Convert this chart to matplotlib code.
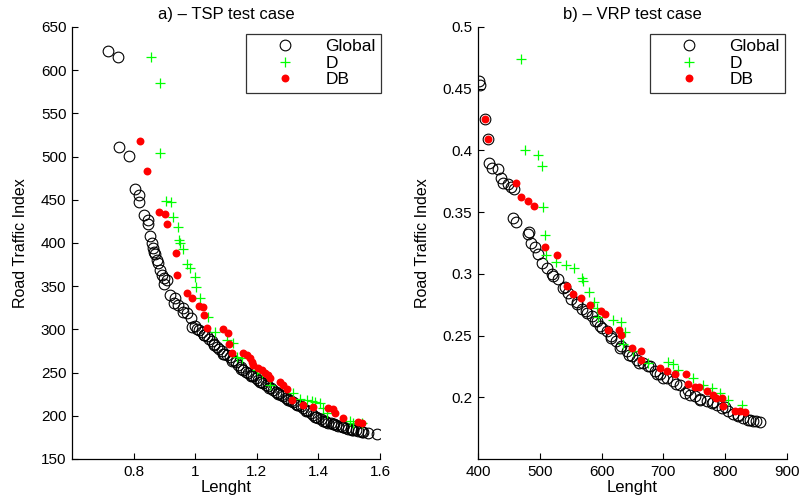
import matplotlib
matplotlib.use("Agg")
import matplotlib.pyplot as plt

plt.rcParams['font.family'] = ['Liberation Sans', 'DejaVu Sans']

# ---------------- TSP test case ----------------
tsp_global_x = [0.718, 0.748, 0.754, 0.785, 0.806, 0.817, 0.817, 0.833, 0.846, 0.848, 0.853,
                0.859, 0.864, 0.869, 0.878, 0.886, 0.893, 0.900, 0.909, 0.918, 0.934, 0.945,
                0.961, 0.972, 0.985, 0.989, 1.005, 1.013, 1.021, 1.029, 1.037, 1.045, 1.054,
                1.062, 1.070, 1.078, 1.086, 1.094, 1.102, 1.113, 1.124, 1.132, 1.140, 1.148,
                1.156, 1.164, 1.172, 1.180, 1.189, 1.197, 1.205, 1.213, 1.221, 1.229, 1.237,
                1.245, 1.254, 1.262, 1.270, 1.278, 1.286, 1.294, 1.302, 1.310, 1.319, 1.327,
                1.335, 1.343, 1.351, 1.359, 1.367, 1.375, 1.384, 1.392, 1.400, 1.408, 1.416,
                1.424, 1.432, 1.440, 1.448, 1.456, 1.465, 1.473, 1.481, 1.489, 1.497, 1.505,
                1.513, 1.521, 1.530, 1.538, 1.546, 1.589,
                0.865, 0.875, 0.900, 0.930, 0.960, 1.000, 1.030, 1.060, 1.090, 1.120, 1.150,
                1.180, 1.210, 1.240, 1.270, 1.300, 1.330, 1.360, 1.390, 1.420, 1.450, 1.480,
                1.510, 1.540, 1.560]
tsp_global_y = [622, 615, 511, 501, 463, 455, 447, 432, 427, 422, 408,
                400.5, 394, 387, 377, 369, 363, 359, 357, 340, 336, 328,
                324.5, 319, 313, 303, 301, 299, 297.5, 294, 292, 289, 286,
                283, 280, 277, 274.5, 272, 270.5, 268, 265, 262, 259, 256,
                253, 251, 249.5, 247.5, 245.5, 243.5, 241.5, 239.5, 237.8, 236, 234,
                232, 230, 228, 226, 224, 222.5, 220.5, 218.5, 217, 215.5, 214,
                213, 211, 209, 207, 205, 203, 201, 199, 197.5, 196, 194.5,
                193.3, 192.2, 191.5, 190.7, 189.5, 188.4, 187.7, 187, 186, 185, 184.5,
                183.8, 183.2, 182.6, 182, 181.5, 178.8,
                390, 380, 352, 331, 320, 304, 293, 282, 271, 263, 254,
                246, 239, 232, 225, 219, 212, 206, 199, 194, 190, 187,
                184, 181, 180]

tsp_d_x = [0.857, 0.886, 0.886, 0.905, 0.921, 0.927, 0.944, 0.948, 0.951, 0.961, 0.972,
           0.983, 0.999, 1.003, 1.016, 1.042, 1.064, 1.102, 1.124, 1.135, 1.151, 1.200,
           1.216, 1.243, 1.319, 1.340, 1.362, 1.378, 1.389, 1.405, 1.416, 1.427, 1.503,
           1.513, 1.541]
tsp_d_y = [615.6, 585, 504, 449, 447, 430, 419, 403.5, 399.7, 393, 375.5,
           371, 361, 349, 336, 314, 297.5, 288, 284, 268.5, 266.5, 253,
           249, 235.7, 226, 220, 218.5, 217, 215.7, 214.5, 209, 203, 194.5,
           192, 191.5]

tsp_db_x = [0.821, 0.845, 0.882, 0.903, 0.907, 0.938, 0.942, 0.972, 0.989, 1.013, 1.024,
            1.029, 1.037, 1.091, 1.107, 1.111, 1.118, 1.154, 1.167, 1.178, 1.183, 1.189,
            1.205, 1.216, 1.227, 1.237, 1.243, 1.275, 1.286, 1.297, 1.315, 1.351, 1.384,
            1.432, 1.448, 1.454, 1.479, 1.528, 1.541]
tsp_db_y = [518, 483.4, 436, 433.6, 422, 388, 363, 342, 336, 327, 326.5,
            317, 302, 300.3, 295.5, 283, 273, 273, 270.5, 266.5, 262.5, 258.8,
            255, 253, 249.4, 247.3, 243.5, 239.6, 235.7, 230.7, 218.5, 212.6, 210.6,
            208.8, 208, 203, 197.3, 193.3, 191.5]

tsp_xticks = [0.8, 1.0, 1.2, 1.4, 1.6]
tsp_xticklabels = ['0.8', '1', '1.2', '1.4', '1.6']
tsp_yticks = [150, 200, 250, 300, 350, 400, 450, 500, 550, 600, 650]

# ---------------- VRP test case ----------------
vrp_global_x = [402, 404, 418, 422, 432, 438, 440.5, 448.6, 454, 458, 457, 462, 482.7, 481,
                486.5, 492, 497, 502.8, 511, 521.5, 529.7, 537.8, 546, 551, 559.5, 567.6,
                575.7, 583.8, 592, 597, 608, 616, 624, 632, 640.5, 648.6, 656.7, 667.4,
                678.3, 686.4, 694.5, 705.3, 716, 727, 735, 743, 751, 759, 770, 778,
                786.4, 794.5, 805, 813, 821.4, 829.5, 837.6, 845.7, 856.5,
                412, 416, 520, 540, 560, 575, 590, 600, 615, 630, 645, 660, 675, 690,
                700, 720, 740, 760, 780, 800, 820, 840, 850]
vrp_global_y = [0.456, 0.453, 0.390, 0.386, 0.385, 0.378, 0.374, 0.373, 0.370, 0.369, 0.345,
                0.342, 0.3336, 0.332, 0.3254, 0.3214, 0.316, 0.3092, 0.305, 0.2984, 0.2957,
                0.2889, 0.2848, 0.2794, 0.2754, 0.2713, 0.2685, 0.2659, 0.2618, 0.2577,
                0.2537, 0.2496, 0.2455, 0.2415, 0.2374, 0.2333, 0.2306, 0.2279, 0.2252,
                0.2211, 0.2185, 0.2157, 0.213, 0.2103, 0.2035, 0.2022, 0.2008, 0.198,
                0.1967, 0.1954, 0.1941, 0.1913, 0.1886, 0.1864, 0.1846, 0.1832, 0.1819,
                0.1805, 0.18,
                0.4258, 0.409, 0.300, 0.289, 0.277, 0.270, 0.262, 0.256, 0.248, 0.240,
                0.234, 0.228, 0.225, 0.219, 0.216, 0.211, 0.206, 0.199, 0.196, 0.192,
                0.186, 0.182, 0.181]

vrp_d_x = [470.3, 476, 497, 503, 505, 508.6, 510.8, 525.9, 542, 555, 567.6, 570, 580,
           587.6, 592, 594.5, 617.8, 631.3, 637.8, 635, 650.3, 675.5, 707.9, 716, 723,
           747.5, 764.7, 778, 791.7, 805, 826.8]
vrp_d_y = [0.4737, 0.4006, 0.3967, 0.387, 0.3539, 0.3315, 0.3154, 0.31, 0.307, 0.305,
           0.297, 0.2943, 0.2854, 0.2772, 0.2726, 0.265, 0.2624, 0.2612, 0.2531, 0.2428,
           0.2379, 0.2279, 0.2285, 0.2266, 0.2225, 0.2157, 0.2103, 0.2076, 0.2035, 0.198,
           0.1941]

vrp_db_x = [412, 416.2, 461.6, 470.3, 481, 490.8, 508, 528.5, 544, 553, 566.4, 581, 598.4,
            605.8, 609.7, 628.5, 630.8, 648.6, 663, 663.7, 694.5, 706.3, 719, 736.6,
            740.3, 751, 758.2, 770, 780.8, 785.2, 794.5, 797, 816, 824, 832]
vrp_db_y = [0.4258, 0.409, 0.3737, 0.362, 0.3593, 0.3553, 0.322, 0.3152, 0.2902, 0.2835,
            0.2807, 0.2748, 0.2699, 0.2677, 0.2542, 0.2542, 0.2504, 0.2396, 0.2374,
            0.2306, 0.2238, 0.2217, 0.2185, 0.2185, 0.2108, 0.2081, 0.2081, 0.2054,
            0.2022, 0.1994, 0.1994, 0.1927, 0.1886, 0.1886, 0.188]

vrp_xticks = [400, 500, 600, 700, 800, 900]
vrp_yticks = [0.2, 0.25, 0.3, 0.35, 0.4, 0.45, 0.5]
vrp_yticklabels = ['0.2', '0.25', '0.3', '0.35', '0.4', '0.45', '0.5']

series_labels = ['Global', 'D', 'DB']

W, H = 803, 503
fig = plt.figure(figsize=(W / 100, H / 100), dpi=100)
axA = fig.add_axes([72 / W, (H - 459) / H, 308 / W, 432 / H])
axB = fig.add_axes([478 / W, (H - 459) / H, 309 / W, 432 / H])

TICK_FS = 11
LABEL_FS = 12


def style(ax):
    for s in ['top', 'right']:
        ax.spines[s].set_visible(False)
    for s in ['left', 'bottom']:
        ax.spines[s].set_linewidth(0.9)
    ax.tick_params(direction='in', length=4, width=0.8, labelsize=TICK_FS, pad=4,
                   top=False, right=False)


def draw(ax, gx, gy, dx, dy, bx, by):
    ax.plot(gx, gy, linestyle='none', marker='o', markersize=7.7, markerfacecolor='none',
            markeredgecolor='black', markeredgewidth=0.8, label=series_labels[0])
    ax.plot(dx, dy, linestyle='none', marker='+', markersize=7.5, color='#00ff00',
            markeredgewidth=0.9, label=series_labels[1])
    ax.plot(bx, by, linestyle='none', marker='o', markersize=5.7, color='red',
            markeredgewidth=0, label=series_labels[2])


draw(axA, tsp_global_x, tsp_global_y, tsp_d_x, tsp_d_y, tsp_db_x, tsp_db_y)
axA.set_xlim(0.6, 1.6)
axA.set_ylim(150, 650)
axA.set_xticks(tsp_xticks)
axA.set_xticklabels(tsp_xticklabels)
axA.set_yticks(tsp_yticks)
style(axA)
axA.set_title('a) \u2013 TSP test case', fontsize=LABEL_FS, pad=6)
axA.set_xlabel('Lenght', fontsize=LABEL_FS, labelpad=1)
axA.set_ylabel('Road Traffic Index', fontsize=LABEL_FS - 0.5, labelpad=9)

draw(axB, vrp_global_x, vrp_global_y, vrp_d_x, vrp_d_y, vrp_db_x, vrp_db_y)
axB.set_xlim(400, 900)
axB.set_ylim(0.15, 0.5)
axB.set_xticks(vrp_xticks)
axB.set_yticks(vrp_yticks)
axB.set_yticklabels(vrp_yticklabels)
style(axB)
axB.set_title('b) \u2013 VRP test case', fontsize=LABEL_FS, pad=6)
axB.set_xlabel('Lenght', fontsize=LABEL_FS, labelpad=1)
axB.set_ylabel('Road Traffic Index', fontsize=LABEL_FS - 0.5, labelpad=9)

for ax, right in [(axA, 381), (axB, 785)]:
    leg = ax.legend(loc='upper right', bbox_to_anchor=(right / W, 1 - 34 / H),
                    bbox_transform=fig.transFigure, borderaxespad=0, fontsize=12.5,
                    frameon=True, fancybox=False, handlelength=4.0, handletextpad=0.3,
                    labelspacing=0.08, borderpad=0.3, numpoints=1)
    leg.get_frame().set_edgecolor('black')
    leg.get_frame().set_linewidth(0.9)

fig.savefig('out.png', dpi=100)
